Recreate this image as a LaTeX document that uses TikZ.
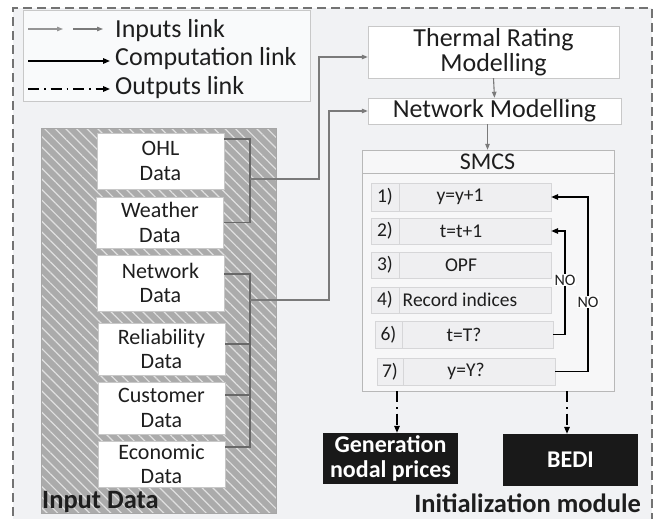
\documentclass[tikz,border=0pt]{standalone}
\usepackage{fontspec}
\setmainfont{Carlito}
\usetikzlibrary{arrows.meta,patterns.meta,calc}
\definecolor{bg}{HTML}{F1F2F4}
\definecolor{txt}{HTML}{1E1E1E}
\definecolor{boxline}{HTML}{C8C8C8}
\definecolor{inlc}{HTML}{7A7A7A}
\definecolor{hatchbg}{HTML}{ABABAB}
\definecolor{hatchln}{HTML}{E0E0E0}
\definecolor{cellfill}{HTML}{EFEFF1}
\definecolor{cellline}{HTML}{D6D6D8}
\begin{document}
\begin{tikzpicture}[x=1pt,y=-1pt,
  fbig/.style={font=\fontsize{26}{25.5}\selectfont},
  fbold/.style={font=\fontsize{26.5}{27}\selectfont\bfseries},
  box/.style={draw=boxline, fill=white, inner sep=0pt, align=center, text=txt},
  databox/.style={box, font=\fontsize{22}{24.5}\selectfont, minimum width=127},
  cell/.style={draw=cellline, fill=cellfill, inner sep=0pt, text=txt, font=\fontsize{19.5}{21}\selectfont},
  itemtext/.style={text=txt, font=\fontsize{19.5}{21}\selectfont, inner sep=0pt},
  inl/.style={draw=inlc, line width=1.1pt, -{Triangle[length=6pt,width=4.5pt]}},
  brack/.style={draw=inlc!85!black, line width=1.1pt},
  compl/.style={draw=black, line width=1.5pt, -{Triangle[length=7pt,width=5.5pt]}},
  outl/.style={draw=black, line width=1.5pt, dash pattern=on 11pt off 5pt on 1.5pt off 5pt, -{Triangle[length=7pt,width=5.5pt]}},
  outbox/.style={fill=black!90, text=white, inner sep=0pt, align=center, font=\fontsize{24}{25}\selectfont\bfseries},
  nolab/.style={fill=white, inner sep=1pt, text=txt, font=\fontsize{16}{16}\selectfont}
]
\useasboundingbox (0,0) rectangle (656,519);
% background and dashed frame
\fill[bg] (13,8) rectangle (652,530);
\draw[draw=black!55, line width=1.6pt, dash pattern=on 9pt off 5pt] (13,530) -- (13,8) -- (652,8) -- (652,530);

% legend
\node[draw=boxline, fill=white!60!bg, minimum width=287, minimum height=91, inner sep=0pt] (legend) at (166.5,55.5) {};
\coordinate (l1a) at (28,29); \coordinate (l1b) at (63,29);
\coordinate (l2a) at (73,29); \coordinate (l2b) at (103,29);
\coordinate (l3a) at (28,61); \coordinate (l3b) at (110,61);
\coordinate (l4a) at (28,89); \coordinate (l4b) at (110,89);
\draw[inl, draw=inlc!80] (l1a) -- (l1b);
\draw[inl] (l2a) -- (l2b);
\draw[compl] (l3a) -- (l3b);
\draw[outl] (l4a) -- (l4b);
\node[anchor=base west, inner sep=0pt, fbig, text=txt] (t1) at (115,37.5) {Inputs link};
\node[anchor=base west, inner sep=0pt, fbig, text=txt] (t2) at (115,66) {Computation link};
\node[anchor=base west, inner sep=0pt, fbig, text=txt] (t3) at (115,94) {Outputs link};

% modelling boxes
\node[box, fbig, minimum width=251, minimum height=52] (thermal) at (493.5,52) {Thermal Rating\\Modelling};
\node[box, fbig, minimum width=253, minimum height=26] (netmod) at (494.5,111) {Network Modelling};
\draw[inl] (thermal.south) -- (netmod.north);

% input data area
\node[draw=black!35, preaction={fill=hatchbg}, pattern={Lines[angle=-45,distance=7.5pt,line width=1.2pt]}, pattern color=hatchln, minimum width=235, minimum height=385, inner sep=0pt] (inp) at (158.5,320.5) {};
\node[anchor=west, inner sep=0pt, fbold, text=txt] (inlabel) at (42,502) {Input Data};

\node[databox, minimum height=56] (ohl) at (160.5,161) {OHL\\Data};
\node[databox, minimum height=51] (weather) at (160,222.5) {Weather\\Data};
\node[databox, minimum height=56] (netdata) at (160.5,283) {Network\\Data};
\node[databox, minimum height=52] (rel) at (161.5,349) {Reliability\\Data};
\node[databox, minimum height=52] (cust) at (161.5,408) {Customer\\Data};
\node[databox, minimum height=46] (econ) at (161.5,464) {Economic\\Data};

% input connectors
\coordinate (b1) at (250,179);
\coordinate (b2) at (250,300);
\coordinate (up1) at (319,179);
\coordinate (up2) at (329,300);
\draw[brack] (ohl.east |- 0,139) -| (weather.east -| b1) -- (weather.east);
\draw[inl] (b1) -- (up1) |- ($(thermal.west)+(0,5)$);
\draw[brack] (netdata.east |- 0,274) -| (b1 |- 0,447) -- (econ.east |- 0,447);
\draw[brack] (b1 |- 0,344) -- (rel.east |- 0,344);
\draw[brack] (b1 |- 0,395) -- (cust.east |- 0,395);
\draw[inl] (b2) -- (up2) |- (netmod.west);

% SMCS
\node[draw=black!28, fill=white!40!bg, minimum width=252, minimum height=241, inner sep=0pt] (smcs) at (488,270.5) {};
\draw[draw=black!28] ($(smcs.north west)+(0,23)$) -- ($(smcs.north east)+(0,23)$);
\node[inner sep=0pt, text=txt, font=\fontsize{24}{25}\selectfont] (smcstitle) at (487.5,161.5) {SMCS};
\draw[inl] (netmod.south -| smcstitle) -- (smcs.north -| smcstitle);

\node[cell, minimum width=28, minimum height=28] (n1) at (385,197) {1)};
\node[cell, minimum width=152, minimum height=28, label={[itemtext, xshift=-15pt]center:y=y+1}] (i1) at (475,197) {};
\node[cell, minimum width=28, minimum height=26] (n2) at (385,231) {2)};
\node[cell, minimum width=152, minimum height=26, label={[itemtext, xshift=-14pt]center:t=t+1}] (i2) at (475,231) {};
\node[cell, minimum width=28, minimum height=26] (n3) at (385,265) {3)};
\node[cell, minimum width=152, minimum height=26, label={[itemtext, xshift=-14pt]center:OPF}] (i3) at (475,265) {};
\node[cell, minimum width=28, minimum height=26] (n4) at (385,300) {4)};
\node[cell, minimum width=152, minimum height=26, label={[itemtext, xshift=-15pt]center:Record indices}] (i4) at (475,300) {};
\node[cell, minimum width=27, minimum height=27] (n6) at (388.5,334.5) {6)};
\node[cell, minimum width=151, minimum height=27, label={[itemtext, xshift=-13.5pt]center:t=T?}] (i6) at (477.5,334.5) {};
\node[cell, minimum width=26, minimum height=27] (n7) at (390,371.5) {7)};
\node[cell, minimum width=152, minimum height=27, label={[itemtext, xshift=-13pt]center:y=Y?}] (i7) at (479,371.5) {};

\coordinate (c6) at (565,334.5);
\coordinate (c7) at (588,371.5);
\draw[compl] (i6.east) -- (c6) |- (i2.east);
\draw[compl] (i7.east) -- (c7) |- (i1.east);
\node[nolab] (no1) at (565,280) {NO};
\node[nolab] (no2) at (588,302) {NO};

% outputs
\node[outbox, minimum width=135, minimum height=51] (gen) at (390.5,458.5) {Generation\\nodal prices};
\node[outbox, minimum width=135, minimum height=52] (bedi) at (570.5,460) {BEDI};
\coordinate (o1) at (397,391);
\coordinate (o2) at (567,391);
\draw[outl] (o1) -- (o1 |- gen.north);
\draw[outl] (o2) -- (o2 |- bedi.north);
\node[anchor=east, inner sep=0pt, fbold, text=txt] (initlabel) at (641,503) {Initialization module};
\end{tikzpicture}
\end{document}
